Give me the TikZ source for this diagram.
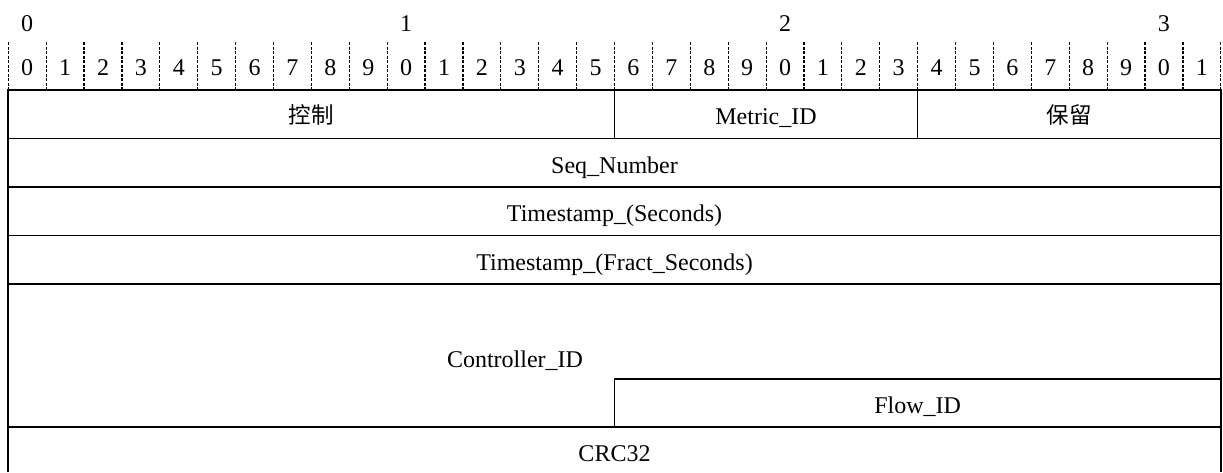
\documentclass[tikz,border=0pt]{standalone}
\usepackage{fontspec}
\setmainfont{Liberation Serif}
\newfontfamily\cjk{Noto Sans CJK SC}
\tikzset{
  lbl/.style={inner sep=0pt, anchor=base, font=\fontsize{24}{28}\selectfont},
  tickline/.style={line width=1.2pt, dash pattern=on 3pt off 1.5pt},
  frame/.style={line width=1.7pt},
}
\begin{document}
\begin{tikzpicture}[x=1pt,y=-1pt]
  \useasboundingbox (0,0) rectangle (1223,472);
  % bit ruler
  \foreach \k in {0,...,32}
    \draw[tickline] ({8.3+\k*37.89},42) -- ({8.3+\k*37.89},90);
  \foreach \k in {0,...,31}{
    \pgfmathtruncatemacro\d{mod(\k,10)}
    \node[lbl] (bit\k) at ({8.3+(\k+0.5)*37.89},75) {\d};
  }
  \foreach \t in {0,...,3}
    \node[lbl] (ten\t) at ({8.3+(10*\t+0.5)*37.89},31.7) {\t};

  % fields
  \draw[frame] (8.3,472) -- (8.3,90) -- (1220.7,90) -- (1220.7,472);
  \foreach \y in {138.5,187,235.5,284,427.3}
    \draw[frame] (8.3,\y) -- (1220.7,\y);
  \draw[frame] (614.5,90) -- (614.5,138.5);
  \draw[frame] (917.6,90) -- (917.6,138.5);
  \draw[frame] (614.5,427.3) -- (614.5,379.3) -- (1220.7,379.3);

  \node[lbl, font=\fontsize{22.5}{27}\selectfont\cjk] (ctrl) at (311.4,123) {控制};
  \node[lbl] (metric) at (766,124.5) {Metric\_ID};
  \node[lbl, font=\fontsize{22.5}{27}\selectfont\cjk] (resv) at (1069.1,123) {保留};
  \node[lbl] (seq) at (614.5,173) {Seq\_Number};
  \node[lbl] (tsec) at (614.5,221.5) {Timestamp\_(Seconds)};
  \node[lbl] (tfrac) at (614.5,270.5) {Timestamp\_(Fract\_Seconds)};
  \node[lbl] (ctrlid) at (515,367.3) {Controller\_ID};
  \node[lbl] (flow) at (917.6,413.8) {Flow\_ID};
  \node[lbl] (crc) at (614.5,461.8) {CRC32};
\end{tikzpicture}
\end{document}
